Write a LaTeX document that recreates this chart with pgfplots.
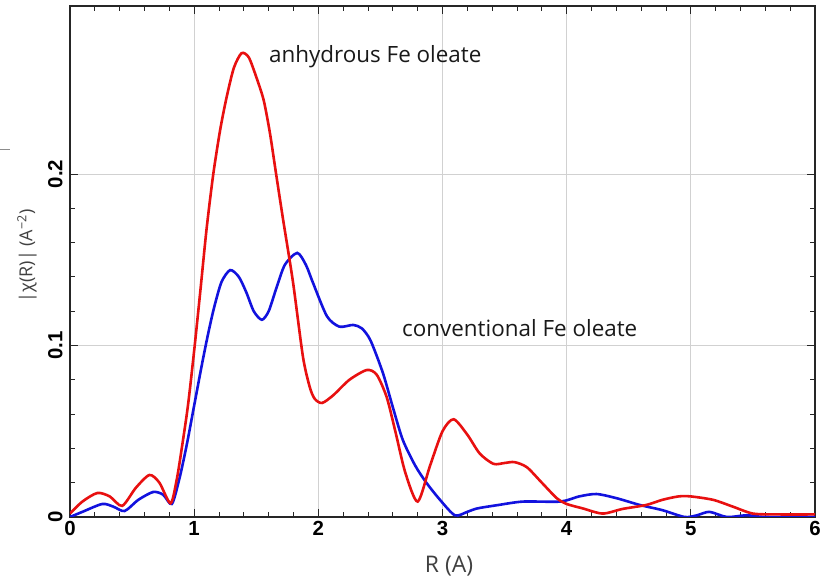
\documentclass[border=0pt]{standalone}
\usepackage{pgfplots}
\pgfplotsset{compat=1.18}
\usepackage{fontspec}
\setmainfont{Open Sans}
\newfontfamily\tickfont{Liberation Sans}
\definecolor{cred}{RGB}{232,16,16}
\definecolor{cblue}{RGB}{18,18,222}
\begin{document}
\begin{tikzpicture}
\useasboundingbox (-70bp,-60bp) rectangle (753bp,517bp);
\begin{axis}[
  at={(0,0)}, anchor=origin,
  scale only axis, width=745bp, height=511bp,
  xmin=0, xmax=6, ymin=0, ymax=0.298,
  xtick={0,1,2,3,4,5,6}, ytick={0,0.1,0.2},
  minor x tick num=4, minor y tick num=4,
  tick align=inside, major tick length=8bp, minor tick length=5bp,
  xmajorgrids, ymajorgrids,
  grid style={black!18, line width=0.9bp},
  axis line style={line width=1.2bp, black!85},
  tick style={black!85, line width=1bp},
  /pgf/number format/assume math mode=true,
  ticklabel style={font=\tickfont\bfseries\fontsize{20.5}{20.5}\selectfont},
  xticklabel style={yshift=-1bp},
  yticklabel style={rotate=90, anchor=south},
  yticklabel shift=4bp,
  scaled y ticks=false,
  yticklabel={\pgfmathprintnumber[fixed,precision=1]{\tick}},
]
\addplot[cblue, line width=2.6bp, smooth, tension=0.45] coordinates {
(0,0) (0.1,0.003) (0.26,0.0076) (0.35,0.006) (0.44,0.0035) (0.55,0.01)
(0.67,0.0146) (0.75,0.013) (0.82,0.0076) (0.88,0.022) (0.94,0.042)
(1.0,0.065) (1.06,0.088) (1.11,0.106) (1.16,0.122) (1.22,0.137) (1.29,0.144)
(1.36,0.14) (1.42,0.131) (1.48,0.12) (1.545,0.115) (1.6,0.12) (1.66,0.133)
(1.73,0.147) (1.83,0.154) (1.9,0.147) (1.96,0.136) (2.07,0.117) (2.17,0.111)
(2.28,0.112) (2.35,0.11) (2.42,0.103) (2.52,0.084) (2.6,0.064) (2.68,0.045)
(2.78,0.03) (2.87,0.02) (2.98,0.01) (3.1,0.001) (3.2,0.003) (3.28,0.005)
(3.45,0.007) (3.65,0.009) (3.95,0.009) (4.1,0.012) (4.24,0.0134) (4.4,0.011)
(4.59,0.007) (4.77,0.004) (4.95,0.0) (5.05,0.001) (5.15,0.003) (5.29,0.0)
(5.45,0.001) (5.6,0.0) (6.0,0.0)
};
\addplot[cred, line width=2.6bp, smooth, tension=0.45] coordinates {
(0,0.002) (0.1,0.009) (0.22,0.014) (0.32,0.012) (0.42,0.0065) (0.53,0.017)
(0.64,0.0245) (0.72,0.02) (0.81,0.008) (0.86,0.022) (0.9,0.04) (0.95,0.065)
(1.0,0.097) (1.05,0.132) (1.1,0.168) (1.154,0.2) (1.21,0.226) (1.262,0.245)
(1.32,0.262) (1.382,0.2705) (1.44,0.268) (1.503,0.256) (1.56,0.243)
(1.61,0.224) (1.66,0.2) (1.715,0.174) (1.7955,0.1372) (1.876,0.0935)
(1.93,0.076) (1.97,0.069) (2.03,0.0665) (2.12,0.071) (2.25,0.08)
(2.39,0.0857) (2.47,0.083) (2.55,0.07) (2.62,0.05) (2.7,0.026) (2.8,0.009)
(2.9,0.03) (3.0,0.05) (3.09,0.057) (3.2,0.048) (3.3,0.037) (3.41,0.031)
(3.5,0.0315) (3.58,0.032) (3.68,0.029) (3.8,0.02) (3.92,0.011) (4.0,0.0076)
(4.13,0.005) (4.29,0.002) (4.45,0.0047) (4.64,0.007) (4.77,0.01) (4.9,0.012)
(5.0,0.012) (5.18,0.01) (5.34,0.006) (5.5,0.002) (5.7,0.0015) (6.0,0.0015)
};
\end{axis}
\draw[black!45, line width=1bp] (-70bp,367bp) -- (-60bp,367bp);
\node[anchor=base west, inner sep=0, font=\fontsize{22.5}{22.5}\selectfont, text=black!90] at (199bp,454bp) {anhydrous Fe oleate};
\node[anchor=base west, inner sep=0, font=\fontsize{22.5}{22.5}\selectfont, text=black!90] at (332bp,180bp) {conventional Fe oleate};
\node[inner sep=0, font=\fontsize{23}{23}\selectfont, text=black!75] at (379bp,-49bp) {R (A)};
\node[rotate=90, inner sep=0, font=\fontsize{18}{18}\selectfont, text=black!75] at (-43bp,261bp) {|χ(R)| (A\textsuperscript{−2})};
\end{tikzpicture}
\end{document}
